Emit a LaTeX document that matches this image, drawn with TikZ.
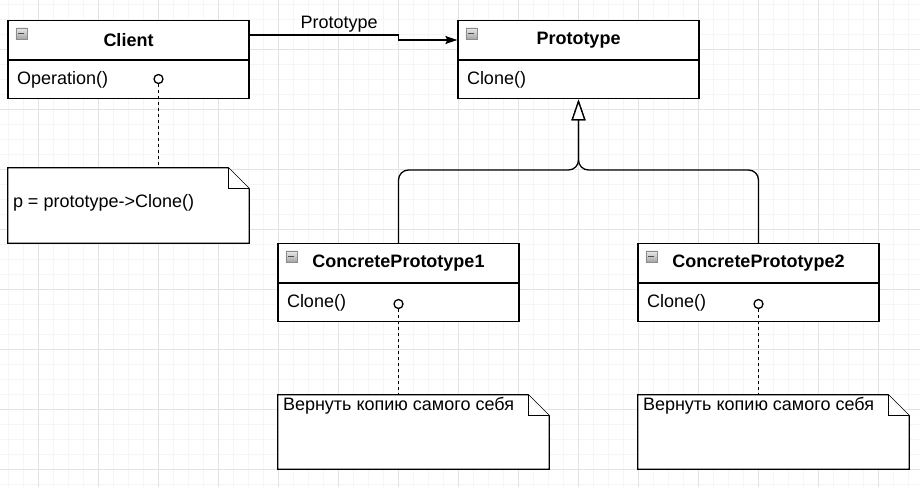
\documentclass[tikz,border=0pt]{standalone}
\usepackage{fontspec}
\setmainfont{Liberation Sans}
\usetikzlibrary{arrows.meta}
\tikzset{
  minorgrid/.style={line width=0.8pt, draw=black!4},
  majorgrid/.style={line width=0.8pt, draw=black!11},
  classhead/.style={draw, line width=1.3pt, fill=white, minimum width=241pt, minimum height=39pt, inner sep=0pt, font=\fontsize{18pt}{21pt}\selectfont\bfseries},
  classbody/.style={draw, line width=1.3pt, fill=white, minimum height=38pt, text width=223pt, inner xsep=9pt, align=left, anchor=north},
  notebox/.style={minimum height=74pt, inner sep=0pt},
  notetext/.style={inner sep=0pt},
  noteline/.style={line width=1.3pt, fill=white, line join=miter},
  port/.style={circle, draw, fill=white, line width=1.3pt, minimum size=9pt, inner sep=0pt},
  dashlink/.style={line width=1.3pt, dash pattern=on 3pt off 3pt},
  assoc/.style={line width=1.3pt, -{Stealth[length=12pt,width=8pt,inset=2pt]}},
  inherit/.style={line width=1.3pt, rounded corners=10pt, -{Triangle[length=21pt,width=14pt,fill=white]}},
  iconbox/.style={line width=0.6pt, draw=black!45, top color=black!8, bottom color=black!35},
  iconminus/.style={line width=1.4pt, draw=black!70}
}
\begin{document}
\begin{tikzpicture}[x=1pt,y=-1pt,font=\fontsize{18pt}{21pt}\selectfont]
  \useasboundingbox (0,0) rectangle (920,487);
  \fill[white] (0,0) rectangle (920,487);
  % background grid
  \foreach \x in {8,23,...,908}
  \draw[minorgrid] (\x,0) -- (\x,487);
  \foreach \y in {4,19,...,484}
  \draw[minorgrid] (0,\y) -- (920,\y);
  \foreach \x in {38,98,...,878}
  \draw[majorgrid] (\x,0) -- (\x,487);
  \foreach \y in {49,109,...,469}
  \draw[majorgrid] (0,\y) -- (920,\y);

  % classes
  \node[classhead] (client) at (128.5,40) {Client};
  \node[classbody] (clientbody) at (client.south) {Operation()};
  \node[classhead] (proto) at (578.5,40) {Prototype};
  \node[classbody] (protobody) at (proto.south) {Clone()};
  \node[classhead] (cp1) at (398.5,263) {ConcretePrototype1};
  \node[classbody] (cp1body) at (cp1.south) {Clone()};
  \node[classhead] (cp2) at (758.5,263) {ConcretePrototype2};
  \node[classbody] (cp2body) at (cp2.south) {Clone()};
  \foreach \c in {client,proto,cp1,cp2} {
    \draw[iconbox] ([shift={(8.5pt,-8pt)}]\c.north west) rectangle ++(11,11);
    \draw[iconminus] ([shift={(11pt,-13.5pt)}]\c.north west) -- ++(6,0);
  }

  % notes
  \node[notebox, minimum width=241pt, minimum height=75pt] (note1) at (128.5,205.5) {};
  \node[notebox, minimum width=271pt] (note2) at (413.5,432) {};
  \node[notebox, minimum width=271pt] (note3) at (773.5,432) {};
  \foreach \n in {note1,note2,note3} {
    \draw[noteline] (\n.north west) -- ([xshift=-21pt]\n.north east) -- ([yshift=-21pt]\n.north east) -- (\n.south east) -- (\n.south west) -- cycle;
    \draw[noteline] ([xshift=-21pt]\n.north east) |- ([yshift=-21pt]\n.north east);
  }
  \node[notetext, anchor=west] (note1text) at ([shift={(5pt,3pt)}]note1.west) {p = prototype->Clone()};
  \node[notetext, anchor=north west] (note2text) at ([shift={(5pt,-2pt)}]note2.north west) {Вернуть копию самого себя};
  \node[notetext, anchor=north west] (note3text) at ([shift={(5pt,-2pt)}]note3.north west) {Вернуть копию самого себя};

  % note links
  \node[port] (clientport) at (158.5,79) {};
  \node[port] (cp1port) at (398.5,304) {};
  \node[port] (cp2port) at (758.5,304) {};
  \draw[dashlink] (clientport.south) -- (clientport |- note1.north);
  \draw[dashlink] (cp1port.south) -- (cp1port |- note2.north);
  \draw[dashlink] (cp2port.south) -- (cp2port |- note3.north);

  % association
  \draw[assoc] ([yshift=5pt]client.east) -- node[above, pos=0.6, inner sep=2pt] (assoclabel) {Prototype} ++(149,0) |- (proto.west);

  % generalization
  \coordinate (joint) at (578.5,170);
  \draw[inherit] (cp1.north) |- (joint) -- (proto.south |- protobody.south);
  \draw[inherit] (cp2.north) |- (joint) -- (proto.south |- protobody.south);
\end{tikzpicture}
\end{document}
